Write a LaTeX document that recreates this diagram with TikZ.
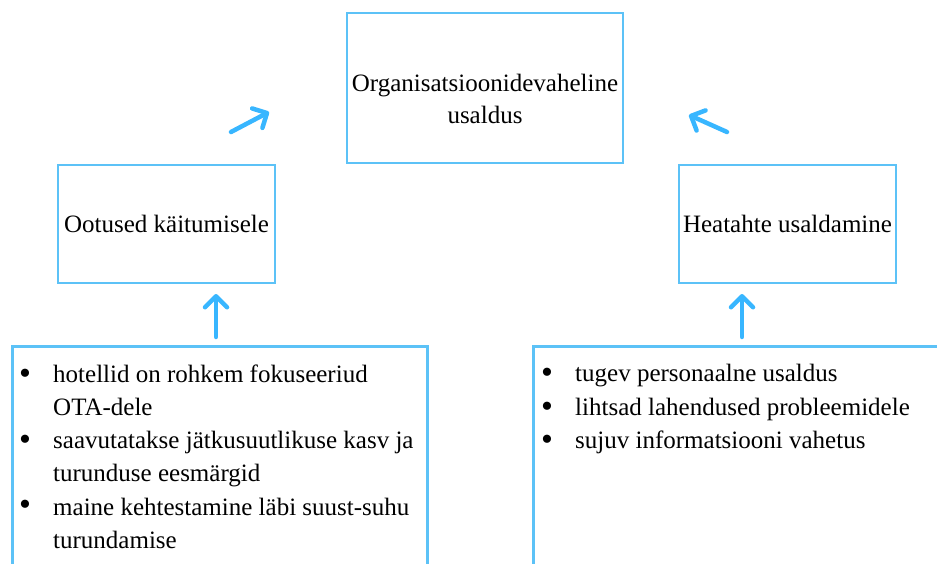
\documentclass[tikz,border=0pt]{standalone}
\usepackage{fontspec}
\setmainfont{Liberation Serif}
\usetikzlibrary{arrows.meta}
\definecolor{boxblue}{HTML}{5CC2F7}
\definecolor{arrblue}{HTML}{38B6FF}
\begin{document}
\begin{tikzpicture}[x=1pt,y=-1pt,
  every node/.style={font=\fontsize{25}{33}\selectfont, inner sep=0pt},
  thinbox/.style={draw=boxblue, line width=2pt},
  thickbox/.style={draw=boxblue, line width=3pt},
  bigarrow/.style={draw=arrblue, line width=4.5pt, line cap=round, line join=round,
     -{Straight Barb[length=11pt,width=22pt,round]}},
  itemtext/.style={anchor=base west, align=left},
  bul/.style={anchor=base, font=\fontsize{34}{34}\selectfont}]
\useasboundingbox (0,0) rectangle (937,564);
\clip (0,0) rectangle (937,564);
% boxes
\node[thinbox, minimum width=276pt, minimum height=150pt] (org) at (485,88) {};
\node[thinbox, minimum width=217pt, minimum height=118pt] (oot) at (166.5,224) {};
\node[thinbox, minimum width=217pt, minimum height=118pt] (hea) at (787.5,224) {};
\draw[thickbox] (12,346) rectangle (427,600);
\draw[thickbox] (533,346) rectangle (960,600);
% texts
\node[anchor=base] (orgt1) at (485,92) {Organisatsioonidevaheline};
\node[anchor=base] (orgt2) at (485,124) {usaldus};
\node[anchor=base] (oott) at (166.5,233) {Ootused käitumisele};
\node[anchor=base] (heat) at (787.5,233) {Heatahte usaldamine};
% left list (base anchor = last line)
\node[bul] (b1) at (25,384) {•};
\node[itemtext] (i1) at (53,415) {hotellid on rohkem fokuseeriud\\OTA-dele};
\node[bul] (b2) at (25,450) {•};
\node[itemtext] (i2) at (53,481) {saavutatakse jätkusuutlikuse kasv ja\\turunduse eesmärgid};
\node[bul] (b3) at (25,515) {•};
\node[itemtext] (i3) at (53,548) {maine kehtestamine läbi suust-suhu\\turundamise};
% right list
\node[bul] (c1) at (547,383) {•};
\node[itemtext] (j1) at (575,381) {tugev personaalne usaldus};
\node[bul] (c2) at (547,417) {•};
\node[itemtext] (j2) at (575,415) {lihtsad lahendused probleemidele};
\node[bul] (c3) at (547,450) {•};
\node[itemtext] (j3) at (575,448) {sujuv informatsiooni vahetus};
% arrows
\coordinate (la1) at (216,337);
\coordinate (la2) at (216,294);
\draw[bigarrow] (la1) -- (la2);
\coordinate (ra1) at (742,337);
\coordinate (ra2) at (742,294);
\draw[bigarrow] (ra1) -- (ra2);
\coordinate (da1) at (231,132);
\coordinate (da2) at (269,112);
\draw[bigarrow] (da1) -- (da2);
\coordinate (db1) at (727,132);
\coordinate (db2) at (689,115);
\draw[bigarrow] (db1) -- (db2);
\end{tikzpicture}
\end{document}
